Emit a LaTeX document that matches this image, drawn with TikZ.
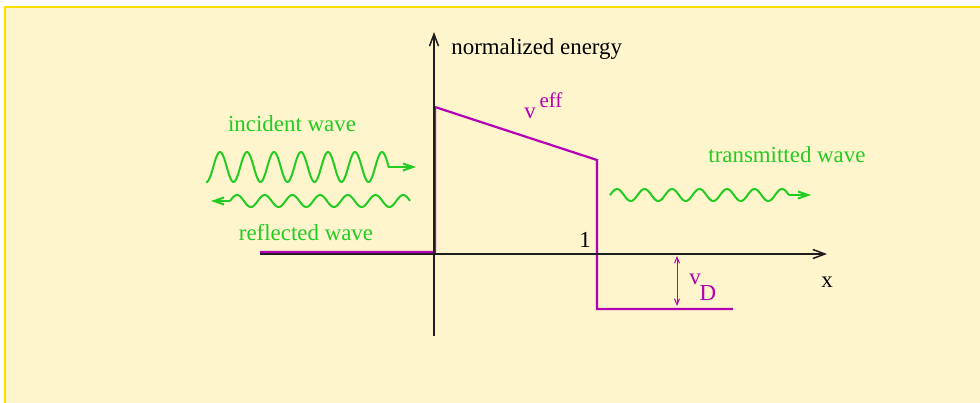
\documentclass[tikz,border=0pt]{standalone}
\usepackage{fontspec}
\setmainfont{Liberation Serif}
\newfontfamily\figfont{Liberation Serif}
\usetikzlibrary{arrows.meta}
\definecolor{bgfill}{RGB}{254,245,204}
\definecolor{bgedge}{RGB}{255,221,0}
\definecolor{wavegreen}{RGB}{34,204,34}
\definecolor{potmag}{RGB}{180,0,180}
\definecolor{axisgray}{RGB}{30,30,30}
\begin{document}
\begin{tikzpicture}[x=0.5pt,y=-0.5pt,
  lbl/.style={inner sep=0pt,font=\figfont\fontsize{11.45}{13}\selectfont},
  greenlbl/.style={lbl,text=wavegreen},
  maglbl/.style={lbl,text=potmag},
  wave/.style={draw=wavegreen,line width=1pt,line join=round},
  pot/.style={draw=potmag,line width=1.1pt,line join=miter},
  axis/.style={draw=axisgray,line width=0.75pt},
  axtip/.style={-{Straight Barb[length=6pt,width=4.5pt]}},
  wtip/.style={-{Straight Barb[length=5pt,width=3.5pt]}},
  vdtip/.style={{Straight Barb[length=3pt,width=2.5pt]}-{Straight Barb[length=3pt,width=2.5pt]}}]
\useasboundingbox (0,0) rectangle (980,402);
\fill[white] (0,0) rectangle (980,402);
\filldraw[fill=bgfill,draw=bgedge,line width=1pt] (5,7) rectangle (990,412);
% key coordinates
\coordinate (xstart) at (260,254);
\coordinate (xorig) at (434,254);
\coordinate (xend) at (827,254);
\coordinate (ybot) at (434,336);
\coordinate (ytop) at (434,32);
\coordinate (p0) at (260,252);
\coordinate (p1) at (435,252);
\coordinate (p2) at (435,107);
\coordinate (p3) at (597,160);
\coordinate (p4) at (597,309);
\coordinate (p5) at (733,309);
\coordinate (vdtop) at (677,256);
\coordinate (vdbot) at (677,306);
% potential
\draw[axis] (xstart) -- (xorig);
\draw[pot] (p0) -- (p1) -- (p2) -- (p3) -- (p4) -- (p5);
% axes
\draw[axis,axtip] (xorig) -- (xend);
\draw[axis,axtip] (ybot) -- (ytop);
\draw[potmag,line width=0.5pt,vdtip] (vdtop) -- (vdbot);
% labels
\node[lbl,anchor=west] (ne) at (451,49) {normalized energy};
\node[maglbl] (veffv) at (530,113) {v};
\node[maglbl,font=\figfont\fontsize{10.5}{12}\selectfont] (veffs) at (551,100) {eff};
\node[lbl] (one) at (585,240) {1};
\node[lbl] (xl) at (827,282) {x};
\node[maglbl] (vdv) at (695,279) {v};
\node[maglbl] (vds) at (708,293) {D};
\node[greenlbl] (inc) at (292,124) {incident wave};
\node[greenlbl] (refl) at (306,233) {reflected wave};
\node[greenlbl,anchor=west] (trans) at (708,155) {transmitted wave};
% waves
\coordinate (iend) at (389,167);
\coordinate (itip) at (416,167);
\draw[wave] plot[domain=206:389,samples=200] (\x,{167-15*cos(13.3333*(\x-220))});
\draw[wave,wtip] (iend) -- (itip);
\coordinate (rend) at (230,201);
\coordinate (rtip) at (211,201);
\draw[wave] plot[domain=230:410,samples=200] (\x,{201-6*cos(12.9964*(\x-237))});
\draw[wave,wtip] (rend) -- (rtip);
\coordinate (tend) at (789,195);
\coordinate (ttip) at (811,195);
\draw[wave] plot[domain=610:789,samples=200] (\x,{195-6*cos(13.0909*(\x-617))});
\draw[wave,wtip] (tend) -- (ttip);
\end{tikzpicture}
\end{document}
